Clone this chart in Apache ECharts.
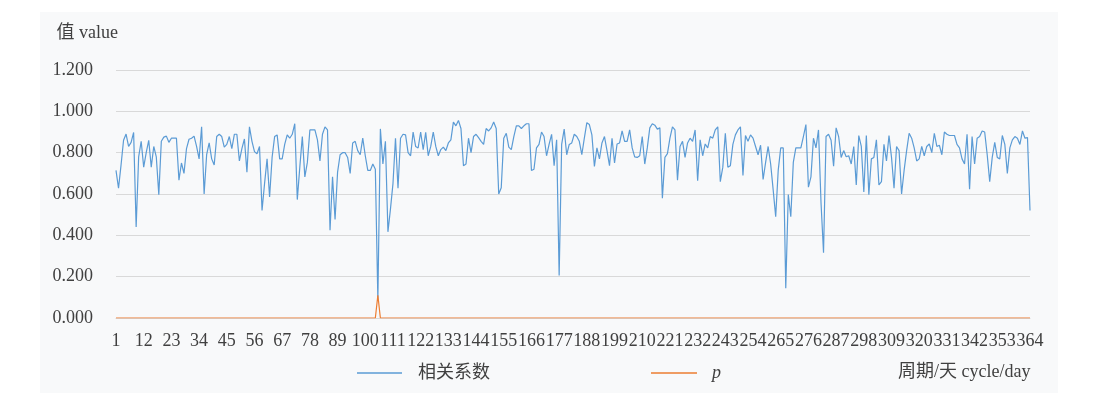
<!DOCTYPE html>
<html>
<head>
<meta charset="utf-8">
<script src="https://cdn.jsdelivr.net/npm/echarts@6/dist/echarts.min.js"></script>
<style>
  html, body { margin: 0; padding: 0; background: #ffffff; }
  #bg { position: absolute; left: 40px; top: 12px; width: 1018px; height: 381px; background: #f8f9fa; }
  #chart { position: absolute; left: 0; top: 0; width: 1117px; height: 403px; }
</style>
</head>
<body>
<div id="bg"></div>
<div id="chart"></div>
<script>
// Correlation coefficient (相关系数) per cycle day 1..364
const corrValues = [
  0.714,0.628,0.74,0.86,0.89,0.83,0.85,0.898,0.44,0.78,
  0.855,0.73,0.80,0.86,0.73,0.83,0.78,0.597,0.855,0.875,
  0.88,0.85,0.87,0.87,0.87,0.667,0.75,0.70,0.82,0.865,
  0.87,0.88,0.83,0.77,0.925,0.60,0.79,0.847,0.77,0.74,
  0.878,0.889,0.878,0.827,0.84,0.878,0.82,0.889,0.889,0.76,
  0.82,0.866,0.706,0.925,0.855,0.805,0.795,0.83,0.52,0.65,
  0.77,0.586,0.777,0.878,0.886,0.77,0.77,0.84,0.886,0.87,
  0.889,0.94,0.573,0.73,0.878,0.683,0.753,0.91,0.91,0.91,
  0.862,0.76,0.889,0.925,0.91,0.425,0.683,0.477,0.706,0.79,
  0.80,0.80,0.777,0.70,0.847,0.855,0.81,0.79,0.87,0.785,
  0.714,0.714,0.745,0.72,0.09,0.915,0.745,0.855,0.417,0.527,
  0.65,0.87,0.628,0.87,0.889,0.886,0.80,0.785,0.90,0.83,
  0.823,0.90,0.815,0.898,0.785,0.83,0.90,0.83,0.785,0.815,
  0.827,0.81,0.847,0.862,0.948,0.93,0.956,0.917,0.737,0.745,
  0.87,0.80,0.878,0.889,0.873,0.855,0.84,0.917,0.905,0.92,
  0.948,0.917,0.60,0.63,0.87,0.894,0.827,0.815,0.878,0.93,
  0.93,0.917,0.93,0.94,0.94,0.714,0.72,0.823,0.84,0.90,
  0.878,0.785,0.84,0.889,0.737,0.862,0.206,0.84,0.914,0.79,
  0.84,0.847,0.889,0.878,0.855,0.79,0.87,0.945,0.936,0.886,
  0.733,0.823,0.77,0.847,0.878,0.81,0.737,0.87,0.75,0.842,
  0.847,0.905,0.855,0.855,0.91,0.823,0.78,0.777,0.785,0.878,
  0.745,0.823,0.92,0.94,0.933,0.914,0.92,0.58,0.777,0.795,
  0.87,0.925,0.91,0.667,0.83,0.855,0.777,0.847,0.87,0.855,
  0.91,0.664,0.862,0.785,0.842,0.823,0.878,0.87,0.91,0.925,
  0.66,0.73,0.894,0.73,0.737,0.84,0.886,0.91,0.925,0.69,
  0.883,0.855,0.886,0.87,0.83,0.79,0.836,0.67,0.753,0.83,
  0.745,0.62,0.49,0.714,0.823,0.823,0.144,0.597,0.49,0.753,
  0.823,0.823,0.823,0.878,0.936,0.633,0.683,0.87,0.823,0.91,
  0.558,0.316,0.878,0.889,0.86,0.735,0.92,0.878,0.777,0.81,
  0.78,0.785,0.745,0.83,0.644,0.883,0.83,0.61,0.883,0.597,
  0.77,0.777,0.862,0.644,0.66,0.84,0.76,0.883,0.777,0.628,
  0.83,0.81,0.60,0.714,0.81,0.894,0.87,0.823,0.76,0.77,
  0.83,0.785,0.83,0.842,0.80,0.894,0.83,0.836,0.79,0.90,
  0.889,0.883,0.883,0.883,0.84,0.823,0.77,0.745,0.889,0.623,
  0.878,0.745,0.87,0.878,0.905,0.90,0.79,0.66,0.777,0.85,
  0.777,0.77,0.883,0.84,0.70,0.823,0.862,0.878,0.87,0.84,
  0.905,0.87,0.873,0.52
];

// p value per cycle day 1..364
const pValues = [
  0,0,0,0,0,0,0,0,0,0, 0,0,0,0,0,0,0,0,0,0,
  0,0,0,0,0,0,0,0,0,0, 0,0,0,0,0,0,0,0,0,0,
  0,0,0,0,0,0,0,0,0,0, 0,0,0,0,0,0,0,0,0,0,
  0,0,0,0,0,0,0,0,0,0, 0,0,0,0,0,0,0,0,0,0,
  0,0,0,0,0,0,0,0,0,0, 0,0,0,0,0,0,0,0,0,0,
  0,0,0,0,0.11,0,0,0,0,0, 0,0,0,0,0,0,0,0,0,0,
  0,0,0,0,0,0,0,0,0,0, 0,0,0,0,0,0,0,0,0,0,
  0,0,0,0,0,0,0,0,0,0, 0,0,0,0,0,0,0,0,0,0,
  0,0,0,0,0,0,0,0,0,0, 0,0,0,0,0,0,0,0,0,0,
  0,0,0,0,0,0,0,0,0,0, 0,0,0,0,0,0,0,0,0,0,
  0,0,0,0,0,0,0,0,0,0, 0,0,0,0,0,0,0,0,0,0,
  0,0,0,0,0,0,0,0,0,0, 0,0,0,0,0,0,0,0,0,0,
  0,0,0,0,0,0,0,0,0,0, 0,0,0,0,0,0,0,0,0,0,
  0,0,0,0,0,0,0,0,0,0, 0,0,0,0,0,0,0,0,0,0,
  0,0,0,0,0,0,0,0,0,0, 0,0,0,0,0,0,0,0,0,0,
  0,0,0,0,0,0,0,0,0,0, 0,0,0,0,0,0,0,0,0,0,
  0,0,0,0,0,0,0,0,0,0, 0,0,0,0,0,0,0,0,0,0,
  0,0,0,0,0,0,0,0,0,0, 0,0,0,0,0,0,0,0,0,0,
  0,0,0,0
];

const categories = corrValues.map((_, i) => String(i + 1));
const seriesNames = ['相关系数', 'p'];
const yTicks = { min: 0, max: 1.2, interval: 0.2 };

const FONT = "'Liberation Serif', 'Noto Sans CJK SC', serif";
const TXT = '#404040';

const chart = echarts.init(document.getElementById('chart'), null, { renderer: 'canvas' });
chart.setOption({
  backgroundColor: 'transparent',
  animation: false,
  textStyle: { fontFamily: FONT },
  grid: { left: 116, right: 87, top: 70, bottom: 85, containLabel: false },
  legend: [
    {
      data: [seriesNames[0]], left: 357, top: 364, padding: 0,
      icon: 'rect', itemWidth: 45, itemHeight: 1.5,
      textStyle: { fontFamily: FONT, fontSize: 18, color: TXT, padding: [0, 0, 0, 11] }
    },
    {
      data: [seriesNames[1]], left: 651, top: 364, padding: 0,
      icon: 'rect', itemWidth: 46, itemHeight: 1.5,
      textStyle: { fontFamily: FONT, fontSize: 18, color: TXT, fontStyle: 'italic', padding: [0, 0, 0, 10] }
    }
  ],
  xAxis: {
    type: 'category',
    data: categories,
    boundaryGap: false,
    axisLine: { lineStyle: { color: '#d9d9d9', width: 1 } },
    axisTick: { show: false },
    axisLabel: { interval: 10, fontSize: 18, fontFamily: FONT, color: TXT, margin: 14 },
    splitLine: { show: false }
  },
  yAxis: {
    type: 'value',
    min: yTicks.min, max: yTicks.max, interval: yTicks.interval,
    name: '值 value',
    nameLocation: 'end',
    nameGap: 28,
    nameTextStyle: { fontFamily: FONT, fontSize: 18, color: TXT, align: 'right', padding: [0, -2, 0, 0] },
    axisLine: { show: false },
    axisTick: { show: false },
    axisLabel: { formatter: v => v.toFixed(3), fontSize: 18, fontFamily: FONT, color: TXT, margin: 23 },
    splitLine: { lineStyle: { color: '#d9d9d9', width: 1 } }
  },
  graphic: [
    {
      type: 'text', left: 898, top: 363,
      style: { text: '周期/天 cycle/day', fontFamily: FONT, fontSize: 18, fill: TXT }
    }
  ],
  series: [
    {
      name: seriesNames[0], type: 'line', data: corrValues,
      symbol: 'none', smooth: false,
      lineStyle: { color: '#5b9bd5', width: 1.2 },
      itemStyle: { color: '#5b9bd5' }, z: 2
    },
    {
      name: seriesNames[1], type: 'line', data: pValues,
      symbol: 'none', smooth: false,
      lineStyle: { color: '#ed7d31', width: 1.2 },
      itemStyle: { color: '#ed7d31' }, z: 3
    }
  ]
});
</script>
</body>
</html>
